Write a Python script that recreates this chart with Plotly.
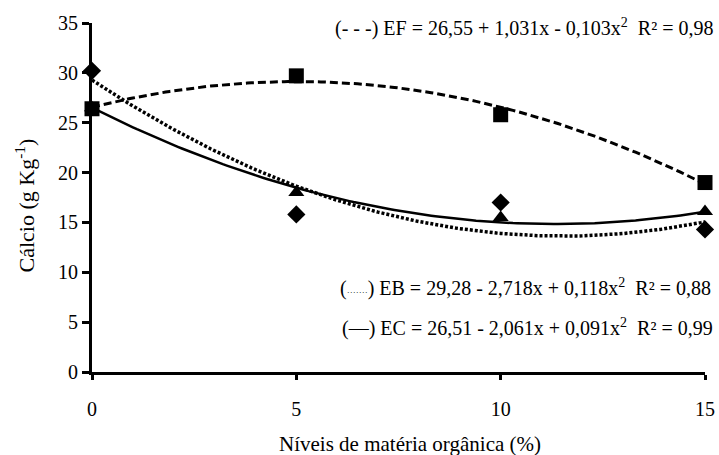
import numpy as np
import plotly.graph_objects as go

# Data
niveis = [0, 5, 10, 15]
ef_vals = [26.4, 29.7, 25.8, 19.0]
eb_vals = [30.2, 15.8, 17.0, 14.3]
ec_vals = [26.5, 18.0, 15.5, 16.1]

# Regression coefficients (a, b, c) for y = a + b x + c x^2, as printed on the chart
ef_coef = [26.55, 1.031, -0.103]
eb_coef = [29.28, -2.718, 0.118]
ec_coef = [26.51, -2.061, 0.091]

eq_ef = "(- - -) EF = 26,55 + 1,031x - 0,103x<sup>2</sup>  R² = 0,98"
eq_eb = "(<span style='font-size:9px'>·······</span>) EB = 29,28 - 2,718x + 0,118x<sup>2</sup>  R² = 0,88"
eq_ec = "(—) EC = 26,51 - 2,061x + 0,091x<sup>2</sup>  R² = 0,99"

x_title = "Níveis de matéria orgânica (%)"
y_title = "Cálcio (g Kg<sup>-1</sup>)"

xs = np.linspace(0, 15, 151)
def fit(c):
    return c[0] + c[1] * xs + c[2] * xs ** 2

FONT = "Liberation Serif, Times New Roman, serif"
FS = 20
fig = go.Figure()

fig.add_trace(go.Scatter(x=xs, y=fit(ef_coef), mode="lines",
                         line=dict(color="black", width=3, dash="8px,4px"), showlegend=False))
fig.add_trace(go.Scatter(x=xs, y=fit(eb_coef), mode="lines",
                         line=dict(color="black", width=3.5, dash="3px,2px"), showlegend=False))
fig.add_trace(go.Scatter(x=xs, y=fit(ec_coef), mode="lines",
                         line=dict(color="black", width=2.5), showlegend=False))

fig.add_trace(go.Scatter(x=niveis, y=ec_vals, mode="markers", cliponaxis=False,
                         marker=dict(symbol="triangle-up", size=14, color="black"), showlegend=False))
fig.add_trace(go.Scatter(x=niveis, y=eb_vals, mode="markers", cliponaxis=False,
                         marker=dict(symbol="diamond", size=14, color="black"), showlegend=False))
fig.add_trace(go.Scatter(x=niveis, y=ef_vals, mode="markers", cliponaxis=False,
                         marker=dict(symbol="square", size=15, color="black"), showlegend=False))

fig.add_annotation(x=1.016, xref="paper", xanchor="right", y=34.5, yref="y", text=eq_ef,
                   showarrow=False, font=dict(family=FONT, size=FS, color="black"))
fig.add_annotation(x=1.013, xref="paper", xanchor="right", y=8.5, yref="y", text=eq_eb,
                   showarrow=False, font=dict(family=FONT, size=FS, color="black"))
fig.add_annotation(x=1.016, xref="paper", xanchor="right", y=4.5, yref="y", text=eq_ec,
                   showarrow=False, font=dict(family=FONT, size=FS, color="black"))

# axis titles
fig.add_annotation(x=-0.110, xref="paper", xanchor="center", y=0.476, yref="paper",
                   yanchor="middle", text=y_title, textangle=-90,
                   showarrow=False, font=dict(family=FONT, size=22, color="black"))
fig.add_annotation(x=0.519, xref="paper", xanchor="center", y=-0.206, yref="paper",
                   yanchor="middle", text=x_title,
                   showarrow=False, font=dict(family=FONT, size=21, color="black"))

fig.update_layout(
    width=719, height=455,
    margin=dict(l=92, r=14, t=23, b=83),
    paper_bgcolor="white", plot_bgcolor="white",
    font=dict(family=FONT, size=FS, color="black"),
    xaxis=dict(range=[0, 15], tickvals=[0, 5, 10, 15], showgrid=False, zeroline=False,
               automargin=False,
               showline=True, linecolor="black", linewidth=3,
               ticks="outside", ticklen=5, tickwidth=3, tickcolor="black",
               ticklabelstandoff=12),
    yaxis=dict(range=[0, 35], tickvals=[0, 5, 10, 15, 20, 25, 30, 35], showgrid=False,
               zeroline=False, showline=True, linecolor="black", linewidth=3,
               automargin=False,
               ticks="outside", ticklen=7, tickwidth=3, tickcolor="black"),
)

fig.write_html("out.html", config={"displayModeBar": False},
               post_script="document.body.style.margin='0';")
